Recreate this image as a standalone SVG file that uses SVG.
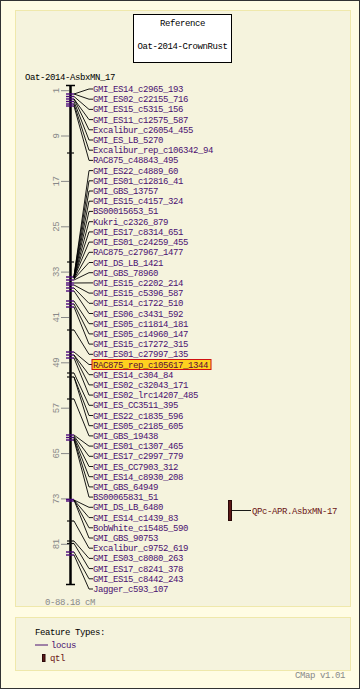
<svg xmlns="http://www.w3.org/2000/svg" width="360" height="689" viewBox="0 0 360 689">
<style>
text{font-family:"Liberation Mono","DejaVu Sans Mono",monospace;font-size:9px;letter-spacing:-0.4px}
.lbl{fill:#4a1070}
.blk{fill:#000}
.gry{fill:#888}
.qtlt{fill:#6b1414}
.tick{stroke:#888;stroke-width:1}
.ploc{stroke:#4b0a7a;stroke-width:1.4}
.bloc{stroke:#111;stroke-width:1.2}
.con path{fill:none;stroke:#000;stroke-width:0.9}
</style>
<rect x="0.5" y="0.5" width="359" height="688" fill="#fffce4" stroke="#333"/>
<rect x="15.5" y="10.5" width="335" height="596" fill="#f5f3dd" stroke="#efe8ab"/>
<rect x="15.5" y="617.5" width="335" height="53" fill="#f5f3dd" stroke="#efe8ab"/>
<g id="reference">
<rect x="133.5" y="14.5" width="98" height="48" fill="#fff" stroke="#000"/>
<text class="blk" x="182.5" y="25.5" text-anchor="middle">Reference</text>
<text class="blk" x="182.5" y="49" text-anchor="middle">Oat-2014-CrownRust</text>
</g>
<g id="map">
<text class="blk" x="25" y="80">Oat-2014-AsbxMN_17</text>
<line x1="70.5" y1="85" x2="70.5" y2="585" stroke="#000" stroke-width="2.5"/>
<line x1="66" y1="85.5" x2="75" y2="85.5" stroke="#000" stroke-width="1.5"/>
<line x1="66" y1="584.5" x2="75" y2="584.5" stroke="#000" stroke-width="1.5"/>
<g class="tick">
<line x1="61" y1="90.7" x2="69" y2="90.7"/><line x1="61" y1="136" x2="69" y2="136"/><line x1="61" y1="181.4" x2="69" y2="181.4"/><line x1="61" y1="226.8" x2="69" y2="226.8"/><line x1="61" y1="272.1" x2="69" y2="272.1"/><line x1="61" y1="317.5" x2="69" y2="317.5"/><line x1="61" y1="362.8" x2="69" y2="362.8"/><line x1="61" y1="408.2" x2="69" y2="408.2"/><line x1="61" y1="453.6" x2="69" y2="453.6"/><line x1="61" y1="498.9" x2="69" y2="498.9"/><line x1="61" y1="544.3" x2="69" y2="544.3"/>
</g>
<g class="gry" text-anchor="middle">
<text transform="translate(59,90.7) rotate(-90)">1</text>
<text transform="translate(59,136) rotate(-90)">9</text>
<text transform="translate(59,181.4) rotate(-90)">17</text>
<text transform="translate(59,226.8) rotate(-90)">25</text>
<text transform="translate(59,272.1) rotate(-90)">33</text>
<text transform="translate(59,317.5) rotate(-90)">41</text>
<text transform="translate(59,362.8) rotate(-90)">49</text>
<text transform="translate(59,408.2) rotate(-90)">57</text>
<text transform="translate(59,453.6) rotate(-90)">65</text>
<text transform="translate(59,498.9) rotate(-90)">73</text>
<text transform="translate(59,544.3) rotate(-90)">81</text>
</g>
<text class="gry" x="45" y="604.5">0-88.18 cM</text>
<g class="ploc">
<line x1="66" y1="94" x2="74" y2="94"/><line x1="66" y1="96.5" x2="74" y2="96.5"/><line x1="66" y1="99" x2="74" y2="99"/><line x1="66" y1="101.5" x2="74" y2="101.5"/><line x1="66" y1="104" x2="74" y2="104"/><line x1="66" y1="106" x2="74" y2="106"/>
<line x1="66" y1="277" x2="74" y2="277"/><line x1="66" y1="280" x2="74" y2="280"/><line x1="66" y1="283" x2="74" y2="283"/><line x1="66" y1="285" x2="74" y2="285"/><line x1="66" y1="288" x2="74" y2="288"/><line x1="66" y1="291" x2="74" y2="291"/><line x1="66" y1="301" x2="74" y2="301"/><line x1="66" y1="304" x2="74" y2="304"/><line x1="66" y1="307" x2="74" y2="307"/>
<line x1="66" y1="352" x2="74" y2="352"/><line x1="66" y1="355" x2="74" y2="355"/><line x1="66" y1="358" x2="74" y2="358"/>
<line x1="66" y1="435" x2="74" y2="435"/><line x1="66" y1="437.5" x2="74" y2="437.5"/><line x1="66" y1="440" x2="74" y2="440"/>
<line x1="66" y1="499.5" x2="74" y2="499.5"/><line x1="66" y1="501" x2="74" y2="501"/>
<line x1="66" y1="552" x2="74" y2="552"/><line x1="66" y1="555" x2="74" y2="555"/>
</g>
<g class="bloc">
<line x1="67" y1="153" x2="74" y2="153"/><line x1="67" y1="262" x2="74" y2="262"/><line x1="67" y1="330" x2="74" y2="330"/><line x1="67" y1="373" x2="74" y2="373"/><line x1="67" y1="377" x2="74" y2="377"/><line x1="67" y1="399" x2="74" y2="399"/><line x1="67" y1="521" x2="74" y2="521"/><line x1="67" y1="541" x2="74" y2="541"/><line x1="67" y1="543.5" x2="74" y2="543.5"/>
</g>
</g>
<g id="connectors" class="con">
<path d="M74 94L89 89H93"/>
<path d="M74 94L89 99.2H93"/>
<path d="M74 96.5L89 109.4H93"/>
<path d="M74 99L89 119.6H93"/>
<path d="M74 99L89 129.8H93"/>
<path d="M74 101.5L89 140H93"/>
<path d="M74 104L89 150.2H93"/>
<path d="M74 106L89 160.4H93"/>
<path d="M74 276L89 170.6H93"/>
<path d="M74 276L89 180.8H93"/>
<path d="M74 277L89 191H93"/>
<path d="M74 277L89 201.2H93"/>
<path d="M74 277L89 211.4H93"/>
<path d="M74 278L89 221.7H93"/>
<path d="M74 278L89 231.9H93"/>
<path d="M74 278L89 242.1H93"/>
<path d="M74 279L89 252.3H93"/>
<path d="M74 279L89 262.5H93"/>
<path d="M74 280L89 272.7H93"/>
<path d="M74 283L89 282.9H93"/>
<path d="M74 285L89 293.1H93"/>
<path d="M74 288L89 303.3H93"/>
<path d="M74 291L89 313.5H93"/>
<path d="M74 301L89 323.7H93"/>
<path d="M74 304L89 333.9H93"/>
<path d="M74 307L89 344.1H93"/>
<path d="M74 330L89 354.3H93"/>
<path d="M74 352L89 364.5H92"/>
<path d="M74 355L89 374.7H93"/>
<path d="M74 355L89 384.9H93"/>
<path d="M74 358L89 395.1H93"/>
<path d="M74 373L89 405.3H93"/>
<path d="M74 377L89 415.5H93"/>
<path d="M74 377L89 425.7H93"/>
<path d="M74 399L89 435.9H93"/>
<path d="M74 435L89 446.1H93"/>
<path d="M74 436L89 456.3H93"/>
<path d="M74 437L89 466.5H93"/>
<path d="M74 438L89 476.7H93"/>
<path d="M74 439L89 486.9H93"/>
<path d="M74 440L89 497.1H93"/>
<path d="M74 500L89 507.3H93"/>
<path d="M74 500L89 517.6H93"/>
<path d="M74 500L89 527.8H93"/>
<path d="M74 500L89 538H93"/>
<path d="M74 521L89 548.2H93"/>
<path d="M74 541L89 558.4H93"/>
<path d="M74 543.5L89 568.6H93"/>
<path d="M74 552L89 578.8H93"/>
<path d="M74 555L89 589H93"/>
<path d="M232 510.5H251"/>
</g>
<g id="labels" class="lbl">
<g id="n01"><text x="93" y="92">GMI_ES14_c2965_193</text></g>
<g id="n02"><text x="93" y="102.2">GMI_ES02_c22155_716</text></g>
<g id="n03"><text x="93" y="112.4">GMI_ES15_c5315_156</text></g>
<g id="n04"><text x="93" y="122.6">GMI_ES11_c12575_587</text></g>
<g id="n05"><text x="93" y="132.8">Excalibur_c26054_455</text></g>
<g id="n06"><text x="93" y="143">GMI_ES_LB_5270</text></g>
<g id="n07"><text x="93" y="153.2">Excalibur_rep_c106342_94</text></g>
<g id="n08"><text x="93" y="163.4">RAC875_c48843_495</text></g>
<g id="n09"><text x="93" y="173.6">GMI_ES22_c4889_60</text></g>
<g id="n10"><text x="93" y="183.8">GMI_ES01_c12816_41</text></g>
<g id="n11"><text x="93" y="194">GMI_GBS_13757</text></g>
<g id="n12"><text x="93" y="204.2">GMI_ES15_c4157_324</text></g>
<g id="n13"><text x="93" y="214.4">BS00015653_51</text></g>
<g id="n14"><text x="93" y="224.7">Kukri_c2326_879</text></g>
<g id="n15"><text x="93" y="234.9">GMI_ES17_c8314_651</text></g>
<g id="n16"><text x="93" y="245.1">GMI_ES01_c24259_455</text></g>
<g id="n17"><text x="93" y="255.3">RAC875_c27967_1477</text></g>
<g id="n18"><text x="93" y="265.5">GMI_DS_LB_1421</text></g>
<g id="n19"><text x="93" y="275.7">GMI_GBS_78960</text></g>
<g id="n20"><text x="93" y="285.9">GMI_ES15_c2202_214</text></g>
<g id="n21"><text x="93" y="296.1">GMI_ES15_c5396_587</text></g>
<g id="n22"><text x="93" y="306.3">GMI_ES14_c1722_510</text></g>
<g id="n23"><text x="93" y="316.5">GMI_ES06_c3431_592</text></g>
<g id="n24"><text x="93" y="326.7">GMI_ES05_c11814_181</text></g>
<g id="n25"><text x="93" y="336.9">GMI_ES05_c14960_147</text></g>
<g id="n26"><text x="93" y="347.1">GMI_ES15_c17272_315</text></g>
<g id="n27"><text x="93" y="357.3">GMI_ES01_c27997_135</text></g>
<g id="n28"><rect x="92" y="359.5" width="119" height="10" fill="#ffd21f" stroke="#d01010" stroke-width="1"/><text x="93" y="367.5" fill="#5a0a3a">RAC875_rep_c105617_1344</text></g>
<g id="n29"><text x="93" y="377.7">GMI_ES14_c304_84</text></g>
<g id="n30"><text x="93" y="387.9">GMI_ES02_c32043_171</text></g>
<g id="n31"><text x="93" y="398.1">GMI_ES02_lrc14207_485</text></g>
<g id="n32"><text x="93" y="408.3">GMI_ES_CC3511_395</text></g>
<g id="n33"><text x="93" y="418.5">GMI_ES22_c1835_596</text></g>
<g id="n34"><text x="93" y="428.7">GMI_ES05_c2185_605</text></g>
<g id="n35"><text x="93" y="438.9">GMI_GBS_19438</text></g>
<g id="n36"><text x="93" y="449.1">GMI_ES01_c1307_465</text></g>
<g id="n37"><text x="93" y="459.3">GMI_ES17_c2997_779</text></g>
<g id="n38"><text x="93" y="469.5">GMI_ES_CC7903_312</text></g>
<g id="n39"><text x="93" y="479.7">GMI_ES14_c8930_208</text></g>
<g id="n40"><text x="93" y="489.9">GMI_GBS_64949</text></g>
<g id="n41"><text x="93" y="500.1">BS00065831_51</text></g>
<g id="n42"><text x="93" y="510.3">GMI_DS_LB_6480</text></g>
<g id="n43"><text x="93" y="520.6">GMI_ES14_c1439_83</text></g>
<g id="n44"><text x="93" y="530.8">BobWhite_c15485_590</text></g>
<g id="n45"><text x="93" y="541">GMI_GBS_90753</text></g>
<g id="n46"><text x="93" y="551.2">Excalibur_c9752_619</text></g>
<g id="n47"><text x="93" y="561.4">GMI_ES03_c8080_263</text></g>
<g id="n48"><text x="93" y="571.6">GMI_ES17_c8241_378</text></g>
<g id="n49"><text x="93" y="581.8">GMI_ES15_c8442_243</text></g>
<g id="n50"><text x="93" y="592">Jagger_c593_107</text></g>
</g>
<g id="qtl">
<rect x="228.5" y="500.5" width="3" height="20" fill="#5c1818" stroke="#2a0808" stroke-width="1"/>
<text class="qtlt" x="252" y="513.5">QPc-APR.AsbxMN-17</text>
</g>
<g id="legend">
<text class="blk" x="35" y="634.5">Feature Types:</text>
<line x1="35" y1="645" x2="48" y2="645" stroke="#4a1070" stroke-width="1"/>
<text class="lbl" x="51" y="648">locus</text>
<rect x="42.5" y="654.5" width="2.5" height="7" fill="#5c1818" stroke="#2a0808" stroke-width="1"/>
<text class="qtlt" x="50" y="661">qtl</text>
<text class="gry" x="295" y="677.5">CMap v1.01</text>
</g>
</svg>
